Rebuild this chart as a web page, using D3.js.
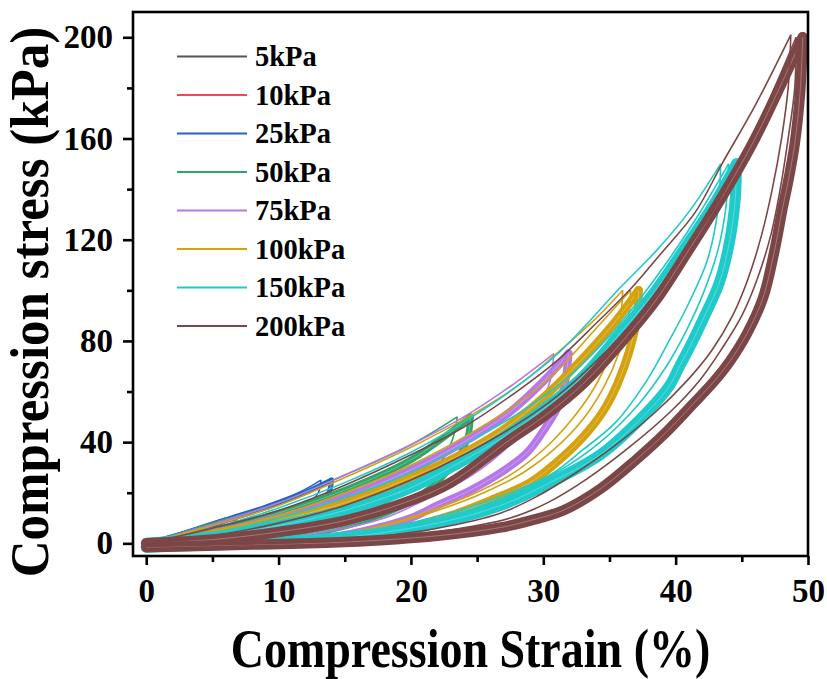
<!DOCTYPE html>
<html>
<head>
<meta charset="utf-8">
<script src="https://cdn.jsdelivr.net/npm/d3@7"></script>
<style>
  html, body { margin: 0; padding: 0; background: #fff; }
  svg { display: block; }
  text { font-family: "Liberation Serif", "Times New Roman", serif; font-weight: bold; fill: #000; }
</style>
</head>
<body>
<svg id="chart" width="827" height="679"></svg>
<script>
// Peak compression stress of each cyclic test
const seriesNames = ["5kPa", "10kPa", "25kPa", "50kPa", "75kPa", "100kPa", "150kPa", "200kPa"];
const seriesColors = ["#565656", "#ec4a50", "#2360d0", "#2ea56a", "#b678e8", "#d4a20e", "#1fcaca", "#7c4646"];
// width of the bundle formed by the repeated (settled) cycles
const bundleWidth = [3, 3.5, 5, 6.5, 8, 8.5, 11, 10.5];

const xTicks = [0, 10, 20, 30, 40, 50];
const yTicks = [0, 40, 80, 120, 160, 200];

// [strain %, stress kPa] — first cycle, loading branch
const firstLoad = [
  [[0,0],[1.5,2],[2.6,3.6],[3.5,5]],
  [[0,0],[2,3.2],[4,6.5],[6,10]],
  [[0,0],[3,5],[6,10],[9,15],[11.5,20],[13.2,25]],
  [[0,0],[5,8],[10,16],[15,27],[20,39],[23.5,50]],
  [[0,0],[5,7.5],[10,16],[15,27],[20,39],[24,50],[27.5,62],[30.8,75]],
  [[0,0],[5,7],[10,15],[15,26],[20,38],[24,49],[28,62],[31,75],[34,89],[36,100]],
  [[0,0],[5,6],[10,14],[15,24],[20,36],[24,48],[28,62],[31.3,76],[35.8,101],[38.6,116],[41,131],[43.4,150]],
  [[0,0],[5,6],[10,13],[15,23],[20,35],[24,46],[28,60],[31,72],[34,87],[36.5,100],[38.8,114],[41.5,131],[43.5,150],[46,173],[48.7,201]]
];
// first cycle, unloading branch
const firstUnload = [
  [[3.5,5],[3.3,3.6],[2.8,2.4],[2,1.3],[1,0.4],[0,-0.3]],
  [[6,10],[5.8,8],[5.3,6],[4.5,4],[3.4,2.3],[2,1],[0,-0.3]],
  [[13.2,25],[13,20],[12.3,16],[11.3,12],[9.8,8.5],[8,5.5],[6,3],[3.5,1],[0,-0.5]],
  [[23.5,50],[23.2,42],[22.5,34],[21.2,27],[19.5,20],[17.3,14],[14.5,9],[11.5,5],[8,2],[4,0.5],[0,-1]],
  [[30.8,75],[30.5,64],[29.6,53],[28.2,43],[26.2,33],[24,25],[21,17],[18,10],[14,5],[9,1.5],[4,0],[0,-1]],
  [[36,100],[35.8,88],[35,74],[33.8,61],[32,48],[30,37],[27.5,27],[24.5,19],[21,12],[17,6],[12,2],[6,0],[0,-1]],
  [[43.4,150],[43.2,132],[42.4,112],[41,95],[39.5,80],[37.9,65],[35.5,48],[33,37],[30.5,27],[27,19],[23,12],[18,6],[12,2],[6,0],[0,-1]],
  [[48.7,201],[48.5,180],[48,160],[47.3,140],[46.5,122],[45.5,105],[44.3,90],[42.7,76],[40.9,64.5],[38.5,52],[35.5,39],[32.5,28],[29.5,18.5],[26.8,12],[22,6],[15,1.5],[8,0],[0,-1]]
];
// second cycle, loading branch (only visible apart from the bundle at high loads)
const secondLoad = [
  [], [], [], [], [],
  [[0,0],[5,5],[10,11],[15,20],[20,31],[24,42],[28,55],[31,68],[34,85],[36.6,100]],
  [[0,0],[5,4],[10,10],[15,18],[20,28],[24,39],[28,51],[31.5,64],[35,82],[38.5,105],[41.5,128],[44,150]],
  [[0,0],[5,3],[10,8],[15,15],[20,25],[24,35],[28,47],[31,58],[34,72],[37,89],[40,110],[43,133],[46,163],[49.1,200]]
];
// second cycle, unloading branch
const secondUnload = [
  [], [], [], [], [],
  [[36.6,100],[36.4,88],[35.7,75],[34.6,62],[33,49],[31,38],[28.5,28],[25.5,20],[22,13],[18,7],[13,2.5],[7,0.3],[0,-1]],
  [[44,150],[43.8,133],[43.2,116],[42.1,99],[40.8,84],[39.3,70],[37.2,55],[34.3,40],[31,28],[27.5,19],[23,11],[18,5],[12,1.5],[6,0],[0,-1]],
  [[49.1,200],[49,180],[48.5,160],[47.9,140],[47.2,122],[46.2,105],[45,90],[43.5,77],[41.9,65],[39.6,52],[36.5,38],[33.3,25.5],[30.3,16],[27.5,10],[22,4.5],[15,1],[8,-0.2],[0,-1.2]]
];
// settled cycles, loading branch
const bandLoad = [
  [[0,0],[1.5,1.6],[3,3.5],[4,5]],
  [[0,0],[2,2.5],[4,5.3],[5.5,7.8],[6.8,10]],
  [[0,0],[3,4],[6,9],[9,14],[12,20],[14,25]],
  [[0,0],[5,5],[10,12],[15,21],[20,33],[22.5,42],[24.5,50]],
  [[0,0],[5,4],[10,10],[15,18],[20,29],[24,40],[27.5,52],[30,64],[31.9,75]],
  [[0,0],[5,3.5],[10,9],[15,16],[20,26],[23,33],[27,45],[30.5,60],[33.5,76],[35.5,88],[37.2,100]],
  [[0,0],[5,2.5],[10,7],[15,13],[20,22],[23,30],[27,42],[30,53],[33,66],[35.8,83],[38.5,100],[40.6,116],[43,135],[44.6,150]],
  [[0,0],[5,1.5],[10,4.5],[15,9],[20,17],[23,24],[27.5,41],[30,50],[33,63],[36,80],[38.5,96],[41,116],[43.4,136],[46,160],[49.6,200]]
];
// settled cycles, unloading branch
const bandUnload = [
  [[4,5],[3.8,3.8],[3.3,2.5],[2.5,1.4],[1.5,0.5],[0,-0.3]],
  [[6.8,10],[6.6,8],[6.1,6],[5.3,4],[4.2,2.3],[2.8,1],[1,0],[0,-0.3]],
  [[14,25],[13.8,20],[13.2,16],[12.2,12],[10.8,8.5],[9,5.5],[7,3],[4.5,1.2],[2,0],[0,-0.5]],
  [[24.5,50],[24.3,42],[23.6,34],[22.5,27],[21,20],[19,14],[16.5,9],[13.5,5],[10,2],[6,0.5],[0,-1]],
  [[31.9,75],[31.7,65],[31.2,55],[30.2,46],[28.8,36],[26.8,28],[24.5,21],[22,15],[20,10],[17,5.5],[14,2.5],[8,0.5],[0,-1]],
  [[37.2,100],[37.1,90],[36.5,76],[35.6,63],[34.5,52],[33,42],[31,32],[29,24],[26,17],[23,11],[19.5,6],[16.5,3],[10,0.5],[0,-1]],
  [[44.6,150],[44.5,136],[44.1,120],[43.3,103],[42.2,90],[41.2,79],[40.3,70],[39.5,62],[37.5,50],[34.3,35],[30.5,24],[26.8,15],[22,8],[16,3],[10,0.5],[0,-1.5]],
  [[49.6,200],[49.4,178],[49,158],[48.5,143],[48.1,133],[47.4,114],[46.6,97],[45.4,83],[44.1,72],[42.9,64],[41.3,55],[39.3,44],[37,33],[34.3,21.5],[31.5,13],[29,9],[26.8,6.3],[22,3],[15,0.5],[8,-0.5],[0,-1.5]]
];

const svg = d3.select("#chart");
const plot = { left: 133, right: 808, top: 12, bottom: 556 };

const x = d3.scaleLinear().domain([-1, 50]).range([plot.left, plot.right]);
const y = d3.scaleLinear().domain([-5, 210]).range([plot.bottom, plot.top]);

svg.append("defs").append("clipPath").attr("id", "plot-clip")
  .append("rect")
  .attr("x", plot.left).attr("y", plot.top)
  .attr("width", plot.right - plot.left).attr("height", plot.bottom - plot.top);

const line = d3.line()
  .x(d => x(d[0]))
  .y(d => y(d[1]))
  .curve(d3.curveCatmullRom.alpha(0.5));

const curves = svg.append("g").attr("clip-path", "url(#plot-clip)");

seriesNames.forEach((name, i) => {
  const g = curves.append("g").attr("class", "series").attr("data-name", name);
  const col = seriesColors[i];
  // settled cycles: a dense bundle of overlapping loops
  [bandLoad[i], bandUnload[i]].forEach(pts => {
    g.append("path").attr("d", line(pts))
      .attr("fill", "none").attr("stroke", col)
      .attr("stroke-width", bundleWidth[i]).attr("stroke-linejoin", "round").attr("stroke-linecap", "round");
    g.append("path").attr("d", line(pts))
      .attr("fill", "none").attr("stroke", "#fff").attr("stroke-opacity", 0.4)
      .attr("stroke-width", 0.7);
  });
  // first and second cycles: single thin loops
  [firstLoad[i], firstUnload[i], secondLoad[i], secondUnload[i]].forEach(pts => {
    if (!pts.length) return;
    g.append("path").attr("d", line(pts))
      .attr("fill", "none").attr("stroke", col)
      .attr("stroke-width", 1.6).attr("stroke-linejoin", "round");
  });
});

// frame
svg.append("rect")
  .attr("x", plot.left).attr("y", plot.top)
  .attr("width", plot.right - plot.left).attr("height", plot.bottom - plot.top)
  .attr("fill", "none").attr("stroke", "#000").attr("stroke-width", 2.6);

// x axis
const xAxis = d3.axisBottom(x).tickValues(xTicks).tickSize(9).tickPadding(14).tickFormat(d3.format("d"));
const gx = svg.append("g").attr("transform", `translate(0,${plot.bottom})`).call(xAxis);
gx.select(".domain").remove();
gx.selectAll(".tick line").attr("stroke", "#000").attr("stroke-width", 2.6);
gx.selectAll(".tick text").attr("font-size", 33).attr("font-family", "Liberation Serif").attr("font-weight", "bold").attr("fill", "#000");
const xMinor = d3.axisBottom(x).tickValues(xTicks.slice(0, -1).map((t, k) => (t + xTicks[k + 1]) / 2)).tickSize(6).tickFormat("");
const gxm = svg.append("g").attr("transform", `translate(0,${plot.bottom})`).call(xMinor);
gxm.select(".domain").remove();
gxm.selectAll(".tick line").attr("stroke", "#000").attr("stroke-width", 2.6);

// y axis
const yAxis = d3.axisLeft(y).tickValues(yTicks).tickSize(10).tickPadding(10).tickFormat(d3.format("d"));
const gy = svg.append("g").attr("transform", `translate(${plot.left},0)`).call(yAxis);
gy.select(".domain").remove();
gy.selectAll(".tick line").attr("stroke", "#000").attr("stroke-width", 2.6);
gy.selectAll(".tick text").attr("font-size", 33).attr("font-family", "Liberation Serif").attr("font-weight", "bold").attr("fill", "#000");
const yMinor = d3.axisLeft(y).tickValues(yTicks.slice(0, -1).map((t, k) => (t + yTicks[k + 1]) / 2)).tickSize(6).tickFormat("");
const gym = svg.append("g").attr("transform", `translate(${plot.left},0)`).call(yMinor);
gym.select(".domain").remove();
gym.selectAll(".tick line").attr("stroke", "#000").attr("stroke-width", 2.6);

// axis titles (tall bold serif)
svg.append("text")
  .attr("transform", `translate(${(plot.left + plot.right) / 2},667) scale(1,1.2)`)
  .attr("text-anchor", "middle").attr("font-size", 46)
  .text("Compression Strain (%)");
svg.append("text")
  .attr("transform", `translate(48,302) rotate(-90) scale(1,1.08)`)
  .attr("text-anchor", "middle").attr("font-size", 51)
  .text("Compression stress (kPa)");

// legend
const legend = svg.append("g");
seriesNames.forEach((name, i) => {
  const ly = 56.5 + i * 38.5;
  legend.append("line")
    .attr("x1", 177).attr("x2", 247).attr("y1", ly).attr("y2", ly)
    .attr("stroke", seriesColors[i]).attr("stroke-width", 2.2);
  legend.append("text")
    .attr("x", 255).attr("y", ly + 9.5)
    .attr("font-size", 28.5)
    .text(name);
});
</script>
</body>
</html>
